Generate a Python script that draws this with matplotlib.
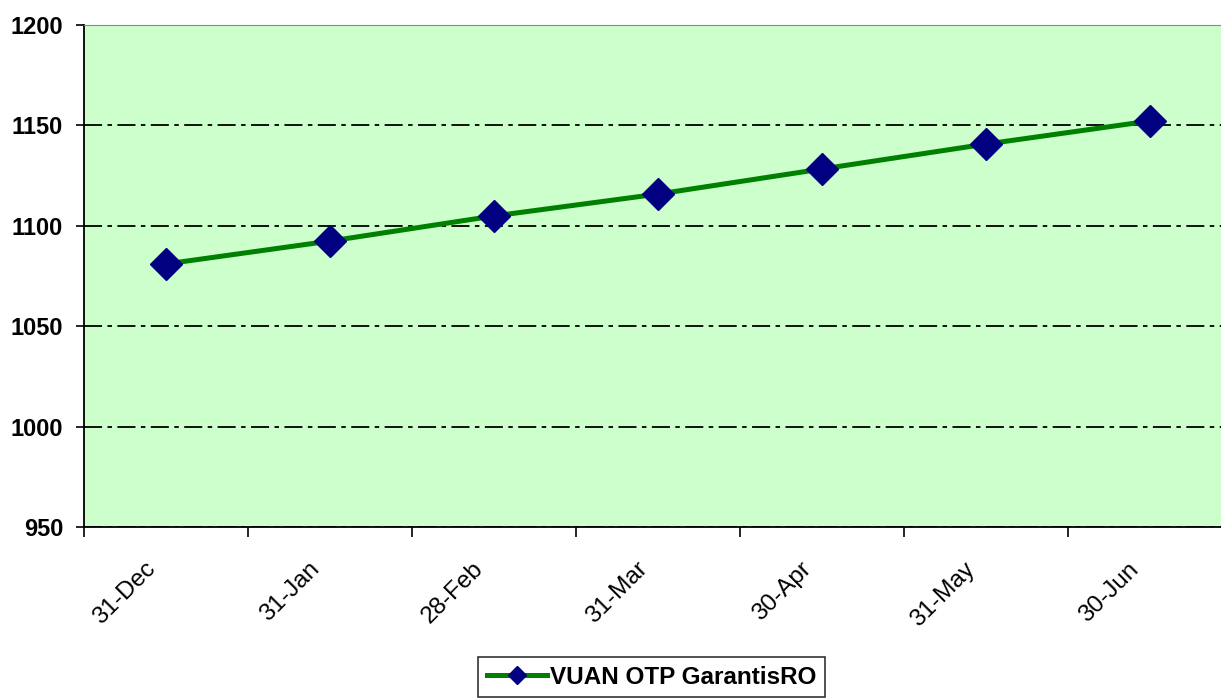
import matplotlib
matplotlib.use('Agg')
import matplotlib.pyplot as plt
from matplotlib.transforms import ScaledTranslation

plt.rcParams['font.family'] = ['Liberation Sans', 'DejaVu Sans']

dates = ['31-Dec', '31-Jan', '28-Feb', '31-Mar', '30-Apr', '31-May', '30-Jun']
values = [1081, 1092.4, 1104.9, 1115.8, 1128.3, 1140.7, 1152.2]
label = 'VUAN OTP GarantisRO'

fig = plt.figure(figsize=(12.21, 7), dpi=100, facecolor='w')
ax = fig.add_axes([84/1221, 1 - 527/700, 1148/1221, 502/700])
ax.set_facecolor('#ccffcc')

x = list(range(len(dates)))
ax.plot(x, values, color='#008000', lw=3.6, marker='D', ms=16,
        mfc='#000080', mec='#000080', label=label, zorder=3)

ax.set_xlim(-0.5, 6.5)
ax.set_ylim(950, 1200)
ax.set_yticks([950, 1000, 1050, 1100, 1150, 1200])
ax.set_xticks([i - 0.5 for i in x] + [6.5])
ax.set_xticklabels([])
ax.tick_params(axis='x', which='major', direction='out', length=7, width=1.2)
ax.tick_params(axis='y', direction='out', length=6, width=1.2, pad=9)
for t in ax.get_yticklabels():
    t.set_fontsize(17)
    t.set_fontweight('bold')

# category labels, rotated, ending just left of each category centre
shift = ScaledTranslation(-22/100, -31/100, fig.dpi_scale_trans)
for xi, d in zip(x, dates):
    ax.text(xi, 0, d, transform=ax.get_xaxis_transform() + shift,
            rotation=45, ha='right', va='top', rotation_mode='anchor',
            fontsize=17.5, clip_on=False)

ax.grid(axis='y', color='black', linestyle=(0, (10, 3, 2.5, 3)), lw=1.3)
ax.set_axisbelow(True)
ax.spines['top'].set_color('#888888')
ax.spines['right'].set_visible(False)
ax.spines['left'].set_linewidth(1.3)
ax.spines['bottom'].set_linewidth(1.3)

leg = fig.legend(loc='upper left', bbox_to_anchor=(478/1221, 1 - 657/700),
                 prop={'weight': 'bold', 'size': 17.5}, frameon=True, fancybox=False,
                 edgecolor='black', borderpad=0.35, borderaxespad=0,
                 handlelength=2.5, handletextpad=0.1, markerscale=0.6)
leg.get_frame().set_linewidth(1.2)

fig.savefig('out.png', dpi=100)
